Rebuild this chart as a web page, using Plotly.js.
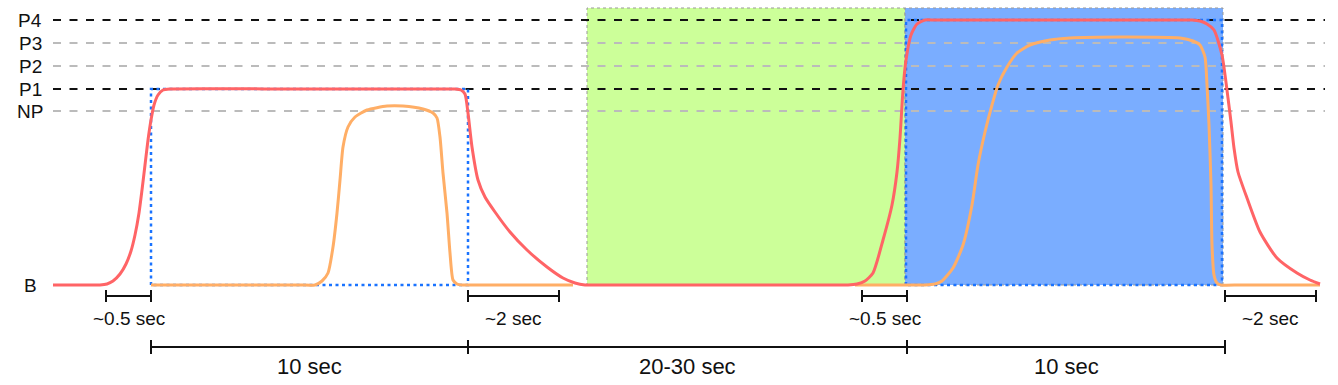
<!DOCTYPE html>
<html>
<head>
<meta charset="utf-8">
<script src="https://cdn.plot.ly/plotly-3.0.1.min.js"></script>
<style>
  html, body { margin: 0; padding: 0; background: #fff; }
  #chart { width: 1338px; height: 385px; }
</style>
</head>
<body>
<div id="chart"></div>
<script>
// pressure levels (B = baseline)
const levelNames = ['B', 'NP', 'P1', 'P2', 'P3', 'P4'];
const levelValues = [0, 174, 196, 219, 242, 265];
const keyLevels = ['P1', 'P4'];
const levelStart = 53, levelEnd = 1325;

// red curve (target pressure)
const redX = [53, 80, 100, 107, 113, 120, 126, 131, 135, 139, 142, 145, 148, 151, 154, 158, 163, 170, 300,
    445, 455, 461, 465, 468, 472, 478, 485, 495, 510, 527, 547, 563, 575, 585, 600, 720,
    830, 848, 857, 865, 873, 883, 892, 897, 900, 903, 906, 911, 917, 925, 935, 1060,
    1180, 1192, 1200, 1207, 1214, 1222, 1228, 1231, 1234, 1238, 1247, 1260, 1277, 1297, 1310, 1320];
const redY = [0, 0, 0, 1, 4, 11, 21, 34, 50, 72, 95, 120, 145, 165, 180, 190, 195, 196, 196,
    196, 196, 195, 191, 172, 138, 105, 88, 73, 53, 35, 18, 7, 2, 0, 0, 0,
    0, 0, 1, 4, 12, 45, 80, 113, 147, 195, 225, 250, 261, 265, 265, 265,
    265, 265, 264, 261, 255, 230, 187, 163, 137, 113, 87, 53, 27, 12, 5, 1];

// orange curve (measured response), two pulses
const orangeX = [151, 250, 300, 315, 322, 328, 333, 337, 340, 343, 348, 355, 367, 387, 403, 423, 433, 437, 440, 443, 447, 450, 453, 457, 462, 480, 520, 573,
    null,
    855, 900, 925, 935, 942, 953, 963, 972, 978, 985, 992, 998, 1007, 1017, 1030, 1050, 1070, 1120, 1180, 1193, 1200, 1205, 1207, 1209, 1211, 1212, 1214, 1217, 1221, 1240, 1280, 1320];
const orangeY = [0, 0, 0, 0, 4, 12, 38, 72, 105, 138, 158, 168, 175, 179, 179, 176, 172, 167, 148, 112, 72, 32, 5, 1, 0, 0, 0, 0,
    null,
    0, 0, 0, 1, 4, 17, 40, 80, 120, 153, 180, 200, 218, 232, 240, 245, 247, 248, 247, 244, 240, 228, 200, 160, 100, 40, 10, 2, 0, 0, 0, 0];

// pulse windows (blue dotted boxes)
const pulseStart = [151, 906];
const pulseEnd = [468, 1222];
const pulseLevel = ['P1', 'P4'];

// shaded phases
const phaseStart = [587, 905];
const phaseEnd = [905, 1223];
const phaseTop = 277;

// timing brackets
const shortStart = [106, 468, 862, 1225];
const shortEnd = [151, 559, 907, 1316];
const shortLabels = ['~0.5 sec', '~2 sec', '~0.5 sec', '~2 sec'];
const longTicks = [151, 468, 907, 1225];
const longLabels = ['10 sec', '20-30 sec', '10 sec'];

const FONT = 'Liberation Sans, Arial, sans-serif';
let data = [];
let annotations = [];
let shapes = [];

phaseStart.forEach(function(x0, i) {
    shapes.push({
        type: 'rect', layer: 'below',
        x0: x0, x1: phaseEnd[i], y0: 0, y1: phaseTop,
        fillcolor: i === 0 ? '#ccff99' : '#7aadff',
        line: {color: '#999999', width: 1, dash: 'dot'},
    });
});

// level lines + labels
levelNames.forEach(function(name, i) {
    if (name !== 'B') {
        data.push({
            x: [levelStart, levelEnd],
            y: [levelValues[i], levelValues[i]],
            type: 'scatter', mode: 'lines',
            line: {color: keyLevels.includes(name) ? '#111111' : '#bbbbbb', width: 2, dash: '8px,8.5px'},
            hoverinfo: 'skip',
        });
    }
    annotations.push({
        x: 30, y: levelValues[i], text: name, showarrow: false,
        xanchor: 'center', yanchor: 'middle',
        font: {family: FONT, size: 19, color: '#111'},
    });
});

// pulse boxes
pulseStart.forEach(function(x0, i) {
    const top = levelValues[levelNames.indexOf(pulseLevel[i])];
    data.push({
        x: [x0, x0, pulseEnd[i], pulseEnd[i], x0],
        y: [0, top, top, 0, 0],
        type: 'scatter', mode: 'lines',
        line: {color: '#1a73ff', width: 2.5, dash: '3px,3.5px'},
        hoverinfo: 'skip',
    });
});

data.push({
    x: orangeX, y: orangeY,
    type: 'scatter', mode: 'lines',
    line: {color: '#ffae66', width: 3, shape: 'spline', smoothing: 0.6},
    connectgaps: false,
    hoverinfo: 'skip',
});

data.push({
    x: redX, y: redY,
    type: 'scatter', mode: 'lines',
    line: {color: '#ff6466', width: 3, shape: 'spline', smoothing: 0.6},
    hoverinfo: 'skip',
});

// brackets
const shortY = -11, shortTick = 6, shortText = -33;
const longY = -62, longTick = 7, longText = -81;
let bx = [], by = [];
shortStart.forEach(function(x0, i) {
    const x1 = shortEnd[i];
    bx.push(x0, x1, null, x0, x0, null, x1, x1, null);
    by.push(shortY, shortY, null, shortY - shortTick, shortY + shortTick, null, shortY - shortTick, shortY + shortTick, null);
    annotations.push({
        x: (x0 + x1) / 2, y: shortText, text: shortLabels[i], showarrow: false,
        xanchor: 'center', yanchor: 'middle',
        font: {family: FONT, size: 19, color: '#111'},
    });
});
bx.push(longTicks[0], longTicks[longTicks.length - 1], null);
by.push(longY, longY, null);
longTicks.forEach(function(x) {
    bx.push(x, x, null);
    by.push(longY - longTick, longY + longTick, null);
});
longLabels.forEach(function(t, i) {
    annotations.push({
        x: (longTicks[i] + longTicks[i + 1]) / 2, y: longText, text: t, showarrow: false,
        xanchor: 'center', yanchor: 'middle',
        font: {family: FONT, size: 22, color: '#111'},
    });
});
data.push({
    x: bx, y: by,
    type: 'scatter', mode: 'lines',
    line: {color: '#111111', width: 2},
    hoverinfo: 'skip',
});

let layout = {
    width: 1338, height: 385,
    margin: {l: 0, r: 0, t: 0, b: 0},
    paper_bgcolor: '#ffffff', plot_bgcolor: '#ffffff',
    showlegend: false,
    xaxis: {range: [0, 1338], visible: false, fixedrange: true},
    yaxis: {range: [-100, 285], visible: false, fixedrange: true},
    shapes: shapes,
    annotations: annotations,
};

Plotly.newPlot('chart', data, layout, {staticPlot: true});
</script>
</body>
</html>
